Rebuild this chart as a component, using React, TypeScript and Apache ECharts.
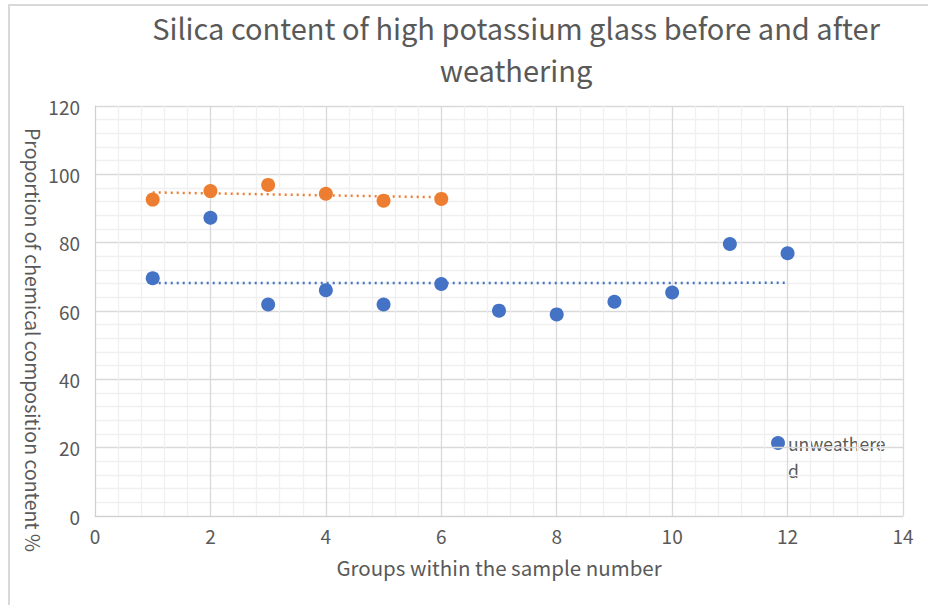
import React, { useEffect, useRef } from "react";
import * as echarts from "echarts";

const groups: number[] = [1, 2, 3, 4, 5, 6, 7, 8, 9, 10, 11, 12];
const unweatheredValues: number[] = [69.6, 87.3, 61.9, 66.1, 61.9, 67.9, 60.1, 59.0, 62.7, 65.4, 79.6, 76.9];
const weatheredGroups: number[] = [1, 2, 3, 4, 5, 6];
const weatheredValues: number[] = [92.6, 95.1, 96.9, 94.3, 92.3, 92.8];

const BLUE = "#4472C4";
const ORANGE = "#ED7D31";
const TEXT = "#595959";

function linearFit(xs: number[], ys: number[]): number[][] {
  const n = xs.length;
  const mx = xs.reduce((a, b) => a + b, 0) / n;
  const my = ys.reduce((a, b) => a + b, 0) / n;
  let num = 0;
  let den = 0;
  for (let i = 0; i < n; i++) {
    num += (xs[i] - mx) * (ys[i] - my);
    den += (xs[i] - mx) * (xs[i] - mx);
  }
  const slope = num / den;
  const b = my - slope * mx;
  const x0 = Math.min(...xs);
  const x1 = Math.max(...xs);
  return [
    [x0, slope * x0 + b],
    [x1, slope * x1 + b],
  ];
}

export default function App() {
  const ref = useRef<HTMLDivElement>(null);
  useEffect(() => {
    if (!ref.current) return;
    const chart = echarts.init(ref.current, null, { renderer: "svg" });
    const font = "'Noto Sans CJK SC', 'Noto Sans', sans-serif";
    chart.setOption({
      animation: false,
      backgroundColor: "#ffffff",
      textStyle: { fontFamily: font },
      title: {
        text: "Silica content of high potassium glass before and after\nweathering",
        left: 511,
        textAlign: "center",
        top: 1,
        textStyle: { color: TEXT, fontSize: 29, fontWeight: "normal", lineHeight: 42, fontFamily: font },
      },
      grid: { left: 95, right: 25, top: 106, bottom: 89 },
      legend: { show: false, data: ["unweathered"] },
      xAxis: {
        type: "value",
        min: 0,
        max: 14,
        interval: 2,
        name: "Groups within the sample number",
        nameLocation: "middle",
        nameGap: 41,
        nameTextStyle: { color: TEXT, fontSize: 20.5, fontFamily: font },
        axisLine: { show: true, lineStyle: { color: "#d0d0d0", width: 1 } },
        axisTick: { show: false },
        axisLabel: { color: TEXT, fontSize: 19, margin: 10 },
        splitLine: { show: true, lineStyle: { color: "#d9d9d9", width: 1.3 } },
        minorTick: { show: false, splitNumber: 5 },
        minorSplitLine: { show: true, lineStyle: { color: "#f0f0f0", width: 1.3 } },
      },
      yAxis: {
        type: "value",
        min: 0,
        max: 120,
        interval: 20,
        axisLine: { show: true, lineStyle: { color: "#d0d0d0", width: 1 } },
        axisTick: { show: false },
        axisLabel: { color: TEXT, fontSize: 19, margin: 15 },
        splitLine: { show: true, lineStyle: { color: "#d9d9d9", width: 1.3 } },
        minorTick: { show: false, splitNumber: 5 },
        minorSplitLine: { show: true, lineStyle: { color: "#f0f0f0", width: 1.3 } },
      },
      graphic: [
        {
          type: "polyline",
          shape: { points: [[9, 605], [9, 5], [928, 5]] },
          style: { stroke: "#d9d9d9", lineWidth: 2, fill: "none" },
          silent: true,
        },
        {
          type: "text",
          x: 33,
          y: 340,
          rotation: -Math.PI / 2,
          style: {
            text: "Proportion of chemical composition content %",
            fill: TEXT,
            fontSize: 19.5,
            fontFamily: font,
            align: "center",
            verticalAlign: "middle",
          },
        },
        {
          type: "circle",
          shape: { cx: 778, cy: 443, r: 7 },
          style: { fill: BLUE },
        },
        {
          type: "text",
          x: 788,
          y: 443,
          style: {
            text: "unweathere",
            fill: TEXT,
            fontSize: 17.5,
            fontFamily: font,
            align: "left",
            verticalAlign: "middle",
          },
        },
        {
          type: "text",
          x: 788,
          y: 470,
          style: {
            text: "d",
            fill: TEXT,
            fontSize: 17.5,
            fontFamily: font,
            align: "left",
            verticalAlign: "middle",
          },
        },
      ],
      series: [
        {
          name: "unweathered trend",
          type: "line",
          data: linearFit(groups, unweatheredValues),
          symbol: "none",
          lineStyle: { color: BLUE, width: 2.5, type: [2, 4] },
          z: 2,
        },
        {
          name: "weathered trend",
          type: "line",
          data: linearFit(weatheredGroups, weatheredValues),
          symbol: "none",
          lineStyle: { color: ORANGE, width: 2.5, type: [2, 4] },
          z: 2,
        },
        {
          name: "unweathered",
          type: "scatter",
          data: groups.map((g, i) => [g, unweatheredValues[i]]),
          symbolSize: 14,
          itemStyle: { color: BLUE, opacity: 1 },
          z: 3,
        },
        {
          name: "weathered",
          type: "scatter",
          data: weatheredGroups.map((g, i) => [g, weatheredValues[i]]),
          symbolSize: 14,
          itemStyle: { color: ORANGE, opacity: 1 },
          z: 3,
        },
      ],
    });
    return () => chart.dispose();
  }, []);
  return (
    <div
      ref={ref}
      style={{ position: "absolute", left: 0, top: 0, width: 928, height: 605 }}
    />
  );
}
